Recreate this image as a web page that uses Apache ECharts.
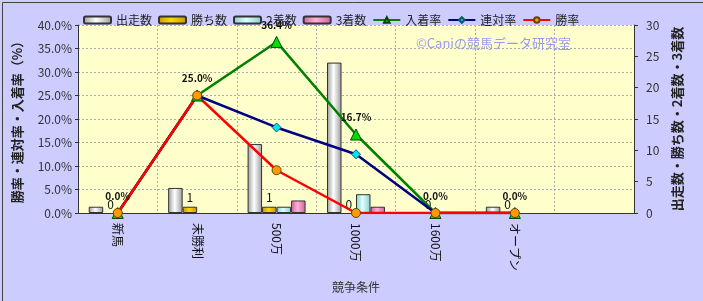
<!DOCTYPE html>
<html><head><meta charset="utf-8">
<script src="https://cdn.jsdelivr.net/npm/echarts@6/dist/echarts.min.js"></script>
<style>html,body{margin:0;padding:0;background:#fff}#c{width:703px;height:301px}</style>
</head><body><div id="c"></div>
<script>
const categories = ['新馬','未勝利','500万','1000万','1600万','オープン',''];
const starts  = [1, 4, 11, 24, 0, 1, null];
const wins    = [0, 1, 1, 0, 0, 0, null];
const seconds = [0, 0, 1, 3, 0, 0, null];
const thirds  = [0, 0, 2, 1, 0, 0, null];
const placeRate = [0, 25.0, 36.4, 16.7, 0, 0, null];
const quinellaRate = [0, 25.0, 18.2, 12.5, 0, 0, null];
const winRate = [0, 25.0, 9.1, 0, 0, 0, null];
const leftTicks = [0,5,10,15,20,25,30,35,40];
const rightTicks = [0,5,10,15,20,25,30];

const FONT = '"Noto Sans CJK JP", "DejaVu Sans", sans-serif';
function grad(edge, mid){
  return new echarts.graphic.LinearGradient(0,0,1,0,[
    {offset:0,color:edge},{offset:0.45,color:mid},{offset:1,color:edge}]);
}
// zero-valued bars are not drawn with a border (as in the reference)
function barData(arr){
  return arr.map(v => v === 0 ? {value:0, itemStyle:{borderWidth:0, opacity:0}} : v);
}
const chart = echarts.init(document.getElementById('c'), null, {renderer:'canvas'});
const barBase = {type:'bar', yAxisIndex:1, barGap:'0%', barCategoryGap:'27%'};
chart.setOption({
  animation:false,
  backgroundColor:'#ccccff',
  textStyle:{fontFamily:FONT},
  legend:{
    top:9, left:78, itemWidth:27, itemHeight:7, itemGap:6,
    textStyle:{fontSize:12,color:'#222',fontFamily:FONT},
    data:['出走数','勝ち数','2着数','3着数','入着率','連対率','勝率']
  },
  graphic:[
    {type:'rect', left:0, top:0, shape:{width:702,height:300}, style:{fill:null,stroke:'#444',lineWidth:1}, silent:true},
    {type:'text', left:416, top:37, z:1, style:{text:'©Caniの競馬データ研究室', fill:'#9a9af0', font:'13px '+FONT}}
  ],
  grid:{left:78, right:69, top:25, bottom:88, show:true, backgroundColor:'#ffffcc', borderWidth:0},
  xAxis:{
    type:'category', data:categories,
    name:'競争条件', nameLocation:'middle', nameGap:68,
    nameTextStyle:{fontSize:12,color:'#333',fontFamily:FONT},
    axisLine:{lineStyle:{color:'#333'}},
    axisTick:{show:false},
    axisLabel:{rotate:-90, fontSize:12, color:'#111', margin:10, interval:0},
    splitLine:{show:true, lineStyle:{color:'#aaa', type:[2,2]}}
  },
  yAxis:[
    {type:'value', min:0, max:40, interval:5,
     name:'勝率・連対率・入着率（%）', nameLocation:'middle', nameRotate:90, nameGap:54,
     nameTextStyle:{fontSize:13, fontWeight:'bold', color:'#222', fontFamily:FONT},
     axisLine:{show:true, lineStyle:{color:'#333'}},
     axisTick:{show:true, length:3, lineStyle:{color:'#333'}},
     axisLabel:{formatter:v=>v.toFixed(1)+'%', fontSize:12, color:'#333', margin:6},
     splitLine:{show:true, lineStyle:{color:'#aaa', type:[2,2]}}
    },
    {type:'value', min:0, max:30, interval:5, position:'right',
     name:'出走数・勝ち数・2着数・3着数', nameLocation:'middle', nameRotate:90, nameGap:32,
     nameTextStyle:{fontSize:13, fontWeight:'bold', color:'#222', fontFamily:FONT},
     axisLine:{show:true, lineStyle:{color:'#333'}},
     axisTick:{show:true, length:4, lineStyle:{color:'#333'}},
     axisLabel:{fontSize:12, color:'#333', margin:12},
     splitLine:{show:false}
    }
  ],
  series:[
    Object.assign({}, barBase, {name:'出走数', data:barData(starts),
      itemStyle:{color:grad('#9a9a9a','#ffffff'), borderColor:'#333', borderWidth:1}}),
    Object.assign({}, barBase, {name:'勝ち数', data:wins.map(v => v === 0 ? {value:0, itemStyle:{borderWidth:0, color:'rgba(0,0,0,0)'}} : v),
      itemStyle:{color:grad('#c89600','#ffd700'), borderColor:'#333', borderWidth:1},
      label:{show:true, position:'top', fontSize:12, color:'#111', distance:3}}),
    Object.assign({}, barBase, {name:'2着数', data:barData(seconds),
      itemStyle:{color:grad('#88cccc','#e0ffff'), borderColor:'#333', borderWidth:1}}),
    Object.assign({}, barBase, {name:'3着数', data:barData(thirds),
      itemStyle:{color:grad('#d0609a','#ffb0d8'), borderColor:'#333', borderWidth:1}}),
    {type:'line', name:'入着率', yAxisIndex:0, data:placeRate, symbol:'triangle', symbolSize:11,
      lineStyle:{color:'#008000', width:2.5}, itemStyle:{color:'#00dd00', borderColor:'#004400', borderWidth:1},
      label:{show:true, position:'top', distance:6, formatter:p=>p.value.toFixed(1)+'%', fontSize:10, fontWeight:'bold', color:'#111'}},
    {type:'line', name:'連対率', yAxisIndex:0, data:quinellaRate, symbol:'diamond', symbolSize:9,
      lineStyle:{color:'#000080', width:2.5}, itemStyle:{color:'#00e5ee', borderColor:'#005566', borderWidth:1}},
    {type:'line', name:'勝率', yAxisIndex:0, data:winRate, symbol:'circle', symbolSize:9,
      lineStyle:{color:'#ff0000', width:2.5}, itemStyle:{color:'#ff9900', borderColor:'#664400', borderWidth:1}}
  ]
});
</script></body></html>
